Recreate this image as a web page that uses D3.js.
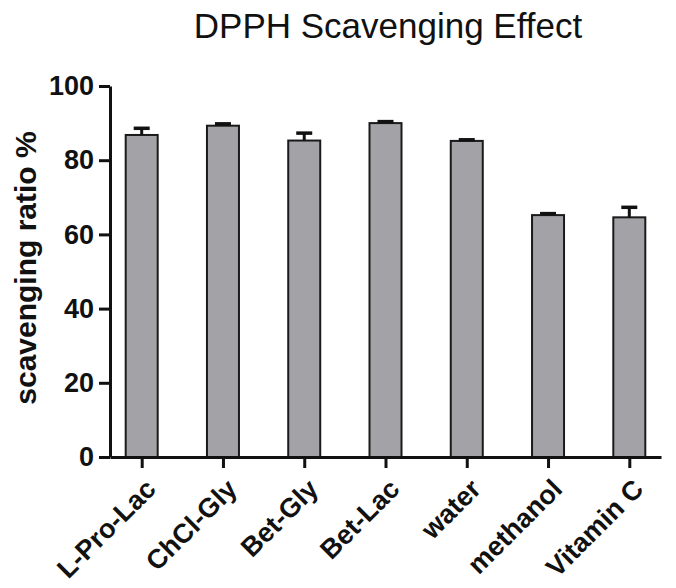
<!DOCTYPE html>
<html>
<head>
<meta charset="utf-8">
<script src="https://cdn.jsdelivr.net/npm/d3@7"></script>
<style>
  body { margin: 0; background: #fff; }
  text { font-family: Arial, "Liberation Sans", sans-serif; }
</style>
</head>
<body>
<svg></svg>
<script>
// data
let categories = ['L-Pro-Lac', 'ChCl-Gly', 'Bet-Gly', 'Bet-Lac', 'water', 'methanol', 'Vitamin C'];
let means = [86.8, 89.3, 85.3, 90.0, 85.2, 65.2, 64.6];
let errors = [1.8, 0.5, 2.0, 0.4, 0.3, 0.4, 2.7];
let yTicks = [0, 20, 40, 60, 80, 100];

let width = 676;
let height = 588;
let plotLeft = 110;
let plotRight = 661;
let plotTop = 86;
let plotBottom = 457;
let barWidth = 32;

let values = categories.map((c, i) => ({ name: c, mean: means[i], err: errors[i] }));

let svg = d3.select('svg')
            .attr('width', width)
            .attr('height', height);

let xScale = d3.scalePoint()
               .domain(categories)
               .range([plotLeft, plotRight])
               .padding(0.39);

let yScale = d3.scaleLinear()
               .domain([0, 100])
               .range([plotBottom, plotTop]);

// title
svg.append('text')
   .attr('x', 388)
   .attr('y', 38)
   .attr('text-anchor', 'middle')
   .style('font-size', '35px')
   .style('fill', '#111')
   .text('DPPH Scavenging Effect');

// bars
svg.selectAll('rect.bar')
   .data(values)
   .enter()
   .append('rect')
   .attr('class', 'bar')
   .attr('x', d => xScale(d.name) - barWidth / 2)
   .attr('y', d => yScale(d.mean))
   .attr('width', barWidth)
   .attr('height', d => yScale(0) - yScale(d.mean))
   .attr('fill', '#a3a3a7')
   .attr('stroke', '#1a1a1a')
   .attr('stroke-width', 2);

// error bars (upper only)
let errG = svg.append('g').attr('stroke', '#111');
errG.selectAll('line.stem')
    .data(values)
    .enter()
    .append('line')
    .attr('stroke-width', 3)
    .attr('x1', d => xScale(d.name))
    .attr('x2', d => xScale(d.name))
    .attr('y1', d => yScale(d.mean))
    .attr('y2', d => yScale(d.mean + d.err));
errG.selectAll('line.cap')
    .data(values)
    .enter()
    .append('line')
    .attr('stroke-width', 3.5)
    .attr('x1', d => xScale(d.name) - 8)
    .attr('x2', d => xScale(d.name) + 8)
    .attr('y1', d => yScale(d.mean + d.err))
    .attr('y2', d => yScale(d.mean + d.err));

// axes
let yAxis = d3.axisLeft(yScale).tickValues(yTicks).tickSize(11).tickSizeOuter(0).tickPadding(5);
let xAxis = d3.axisBottom(xScale).tickSize(11).tickSizeOuter(0).tickFormat('');

let gy = svg.append('g')
            .attr('transform', 'translate(' + plotLeft + ',0)')
            .call(yAxis);
gy.select('.domain').attr('stroke', '#111').attr('stroke-width', 3);
gy.selectAll('.tick line').attr('stroke', '#111').attr('stroke-width', 3);
gy.selectAll('.tick text')
  .style('font-size', '27px')
  .style('font-weight', 'bold')
  .style('font-family', 'Arial, "Liberation Sans", sans-serif')
  .attr('fill', '#111');

let gx = svg.append('g')
            .attr('transform', 'translate(0,' + plotBottom + ')')
            .call(xAxis);
gx.select('.domain').attr('stroke', '#111').attr('stroke-width', 3);
gx.selectAll('.tick line').attr('stroke', '#111').attr('stroke-width', 3);

// rotated category labels
svg.selectAll('text.xlab')
   .data(categories)
   .enter()
   .append('text')
   .attr('class', 'xlab')
   .attr('transform', d => 'translate(' + (xScale(d) + 9) + ',' + 484 + ') rotate(-45)')
   .attr('text-anchor', 'end')
   .attr('dy', '0.35em')
   .style('font-size', '27px')
   .style('font-weight', 'bold')
   .style('fill', '#111')
   .text(d => d);

// y title
svg.append('text')
   .attr('transform', 'translate(36,268) rotate(-90)')
   .attr('text-anchor', 'middle')
   .style('font-size', '30px')
   .style('font-weight', 'bold')
   .style('fill', '#111')
   .text('scavenging ratio %');
</script>
</body>
</html>
